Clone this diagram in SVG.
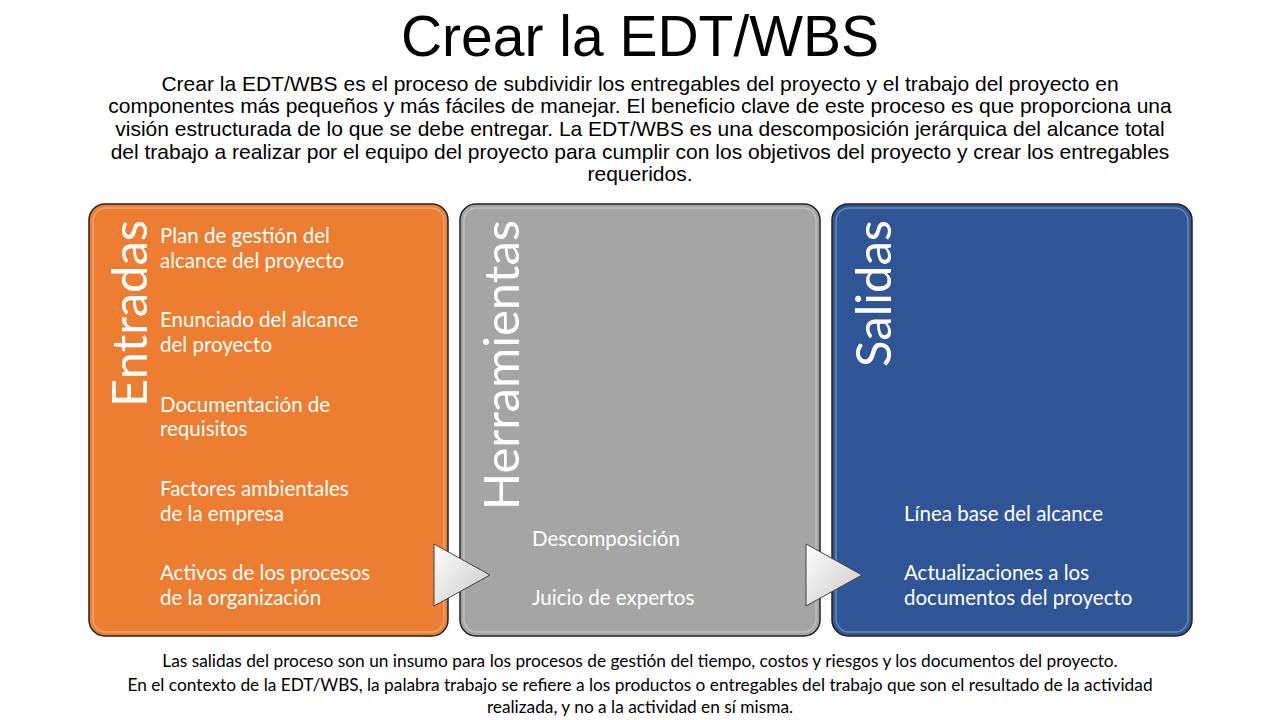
<svg xmlns="http://www.w3.org/2000/svg" width="1280" height="720" viewBox="0 0 1280 720">
<defs>
<style>
.t{font-family:"Liberation Sans",Arial,sans-serif;fill:#000;text-anchor:middle}
.b{font-family:Lato,"Open Sans",sans-serif;font-size:20.5px;fill:#fff}
.h{font-family:Lato,"Open Sans",sans-serif;font-size:49px;fill:#fff;text-anchor:end}
.box{stroke:#222;stroke-width:1.5}
.in{fill:none;stroke:#fff;stroke-opacity:.3;stroke-width:1.5}
.f{font-family:Lato,"Open Sans",sans-serif;font-size:17.3px;fill:#000;text-anchor:middle}
</style>
<linearGradient id="ar" x1="0" y1="0" x2="1" y2="1"><stop offset="0" stop-color="#fff"/><stop offset="1" stop-color="#c8c8c8"/></linearGradient>
</defs>
<text class="t" x="640" y="56" font-size="57">Crear la EDT/WBS</text>
<g class="t" font-size="21">
<text x="640" y="91">Crear la EDT/WBS es el proceso de subdividir los entregables del proyecto y el trabajo del proyecto en</text>
<text x="640" y="113">componentes más pequeños y más fáciles de manejar. El beneficio clave de este proceso es que proporciona una</text>
<text x="640" y="136">visión estructurada de lo que se debe entregar. La EDT/WBS es una descomposición jerárquica del alcance total</text>
<text x="640" y="159">del trabajo a realizar por el equipo del proyecto para cumplir con los objetivos del proyecto y crear los entregables</text>
<text x="640" y="181">requeridos.</text>
</g>
<g id="entradas">
<rect class="box" x="89" y="204" width="359" height="432" rx="16" fill="#ed7d31"/>
<rect class="in" x="93" y="208" width="351" height="424" rx="13"/>
<text class="h" transform="translate(147,220) rotate(-90)">Entradas</text>
<g class="b">
<text x="160" y="243">Plan de gestión del</text><text x="160" y="268">alcance del proyecto</text>
<text x="160" y="327">Enunciado del alcance</text><text x="160" y="352">del proyecto</text>
<text x="160" y="412">Documentación de</text><text x="160" y="436">requisitos</text>
<text x="160" y="496">Factores ambientales</text><text x="160" y="521">de la empresa</text>
<text x="160" y="580">Activos de los procesos</text><text x="160" y="605">de la organización</text>
</g>
</g>
<g id="herramientas">
<rect class="box" x="460" y="204" width="360" height="432" rx="16" fill="#a5a5a5"/>
<rect class="in" x="464" y="208" width="352" height="424" rx="13"/>
<text class="h" transform="translate(519,220) rotate(-90)">Herramientas</text>
<g class="b">
<text x="532" y="546">Descomposición</text>
<text x="532" y="605">Juicio de expertos</text>
</g>
</g>
<g id="salidas">
<rect class="box" x="832" y="204" width="360" height="432" rx="16" fill="#2f5597"/>
<rect class="in" x="836" y="208" width="352" height="424" rx="13"/>
<text class="h" transform="translate(891,220) rotate(-90)">Salidas</text>
<g class="b">
<text x="904" y="521">Línea base del alcance</text>
<text x="904" y="580">Actualizaciones a los</text><text x="904" y="605">documentos del proyecto</text>
</g>
</g>
<g id="connectors" fill="url(#ar)" stroke="#444" stroke-width="1">
<polygon points="434,544 434,606 490,575"/>
<polygon points="806,544 806,606 862,575"/>
</g>
<g class="f">
<text x="640" y="667">Las salidas del proceso son un insumo para los procesos de gestión del tiempo, costos y riesgos y los documentos del proyecto.</text>
<text x="640" y="691">En el contexto de la EDT/WBS, la palabra trabajo se refiere a los productos o entregables del trabajo que son el resultado de la actividad</text>
<text x="640" y="713">realizada, y no a la actividad en sí misma.</text>
</g>
</svg>
